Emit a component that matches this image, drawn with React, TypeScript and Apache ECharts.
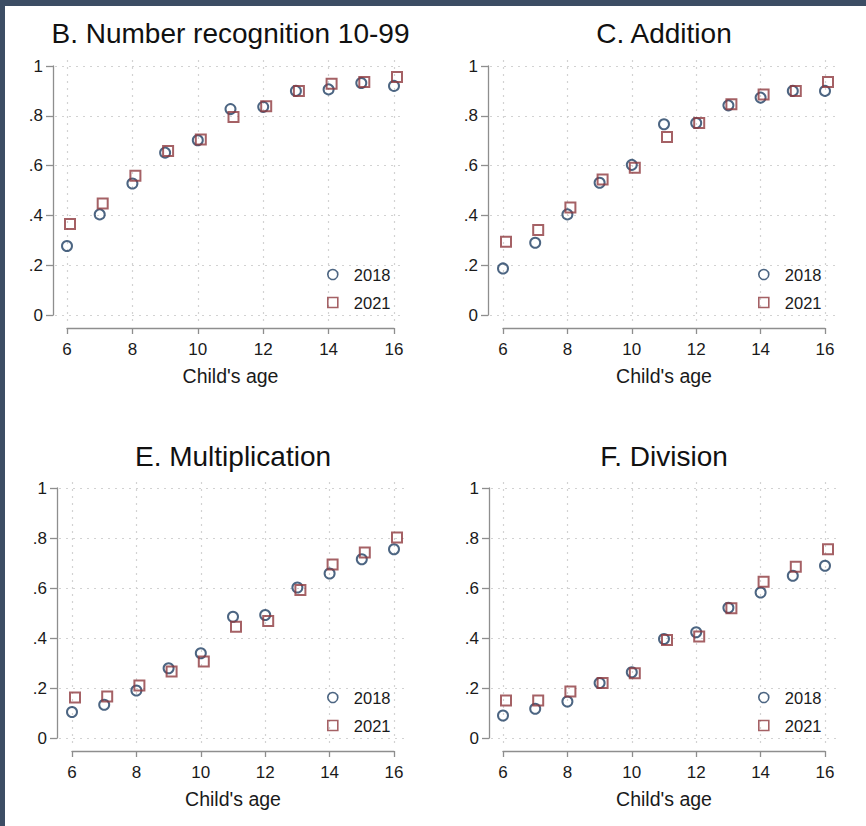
import React, { useEffect, useRef } from 'react';
import * as echarts from 'echarts';

// ---------- data ----------
const ages = [6, 7, 8, 9, 10, 11, 12, 13, 14, 15, 16];
const xTickValues = [6, 8, 10, 12, 14, 16];
const yTickValues = [0, 0.2, 0.4, 0.6, 0.8, 1];
const legendYears = ['2018', '2021'];
const xAxisTitle = "Child's age";
const panelTitles = ['B. Number recognition 10-99', 'C. Addition', 'E. Multiplication', 'F. Division'];

const numberRec2018 = [0.277, 0.404, 0.528, 0.652, 0.702, 0.827, 0.836, 0.9, 0.906, 0.932, 0.92];
const numberRec2021 = [0.365, 0.448, 0.559, 0.659, 0.705, 0.795, 0.838, 0.9, 0.929, 0.936, 0.956];
const addition2018 = [0.187, 0.29, 0.404, 0.531, 0.603, 0.766, 0.771, 0.842, 0.873, 0.9, 0.9];
const addition2021 = [0.294, 0.341, 0.432, 0.544, 0.591, 0.715, 0.771, 0.846, 0.886, 0.9, 0.936];
const multiplication2018 = [0.104, 0.133, 0.19, 0.279, 0.339, 0.485, 0.492, 0.602, 0.658, 0.715, 0.755];
const multiplication2021 = [0.162, 0.166, 0.21, 0.266, 0.306, 0.445, 0.468, 0.592, 0.694, 0.742, 0.802];
const division2018 = [0.09, 0.117, 0.146, 0.22, 0.263, 0.396, 0.423, 0.521, 0.582, 0.649, 0.689];
const division2021 = [0.15, 0.15, 0.186, 0.22, 0.259, 0.392, 0.406, 0.519, 0.625, 0.685, 0.755];

const series2018 = [numberRec2018, addition2018, multiplication2018, division2018];
const series2021 = [numberRec2021, addition2021, multiplication2021, division2021];

// ---------- layout / style ----------
const FONT = '"Liberation Sans", Arial, Helvetica, sans-serif';
const NAVY = '#1f3f63';
const MAROON = '#8e3a3e';
const AXIS = '#8e8e8e';
const GRID = '#d2d2d2';
const FRAME = '#3c4d64';
const TEXT = '#1a1a1a';

// pixel box of the data axes (x=6..16, y=0..1) plus axis line positions
const layout = [
  { left: 67, right: 394, top: 66, bottom: 315, yAxisX: 53, xAxisY: 328, titleY: 33 },
  { left: 503, right: 825, top: 66, bottom: 315, yAxisX: 488, xAxisY: 328, titleY: 33 },
  { left: 72, right: 394, top: 488, bottom: 738, yAxisX: 57, xAxisY: 751, titleY: 456 },
  { left: 503, right: 825, top: 488, bottom: 738, yAxisX: 489, xAxisY: 751, titleY: 456 },
];
const GRID_PAD = { left: 2, right: 11, top: 6, bottom: 8 };

const fmtY = (v: number) => {
  const s = String(Math.round(v * 10) / 10);
  return s.startsWith('0.') ? s.slice(1) : s;
};

function buildOption() {
  const grid: any[] = [];
  const xAxis: any[] = [];
  const yAxis: any[] = [];
  const series: any[] = [];
  const legend: any[] = [];
  const graphic: any[] = [
    { type: 'rect', shape: { x: 0, y: 0, width: 866, height: 6 }, style: { fill: FRAME }, z: 100 },
    { type: 'rect', shape: { x: 0, y: 0, width: 5, height: 826 }, style: { fill: FRAME }, z: 100 },
  ];

  const xMin = xTickValues[0];
  const xMax = xTickValues[xTickValues.length - 1];
  const yMin = yTickValues[0];
  const yMax = yTickValues[yTickValues.length - 1];

  layout.forEach((p, k) => {
    const w = p.right - p.left;
    const h = p.bottom - p.top;
    grid.push({ left: p.left, top: p.top, width: w, height: h, containLabel: false, outerBoundsMode: 'none' });
    const bgLeft = p.yAxisX + GRID_PAD.left;
    const bgRight = p.right + GRID_PAD.right;
    const bgTop = p.top - GRID_PAD.top;
    const bgBottom = p.bottom + GRID_PAD.bottom;
    grid.push({ left: bgLeft, top: bgTop, width: bgRight - bgLeft, height: bgBottom - bgTop, containLabel: false, outerBoundsMode: 'none' });
    const ppx = w / (xMax - xMin);
    const ppy = h / (yMax - yMin);

    xAxis.push({
      type: 'value', gridIndex: 2 * k, min: xMin, max: xMax, interval: 2,
      offset: p.xAxisY - p.bottom,
      axisLine: { show: true, onZero: false, lineStyle: { color: AXIS, width: 1.3 } },
      axisTick: { show: true, length: 6, lineStyle: { color: AXIS, width: 1.3 } },
      axisLabel: { fontSize: 17, color: TEXT, margin: 13, fontFamily: FONT },
      splitLine: { show: false },
      name: xAxisTitle, nameLocation: 'middle', nameGap: 38,
      nameTextStyle: { fontSize: 19.5, color: TEXT, fontFamily: FONT },
    });
    xAxis.push({
      type: 'value', gridIndex: 2 * k + 1,
      min: xMin - (p.left - bgLeft) / ppx, max: xMax + (bgRight - p.right) / ppx,
      axisLine: { show: false }, axisTick: { show: false, customValues: xTickValues },
      axisLabel: { show: false, customValues: xTickValues },
      splitLine: { show: true, lineStyle: { color: GRID, type: [2, 5], width: 1.2 } },
    });
    yAxis.push({
      type: 'value', gridIndex: 2 * k, min: yMin, max: yMax, interval: 0.2,
      offset: p.left - p.yAxisX,
      axisLine: { show: true, onZero: false, lineStyle: { color: AXIS, width: 1.3 } },
      axisTick: { show: true, length: 7, lineStyle: { color: AXIS, width: 1.3 } },
      axisLabel: { fontSize: 17, color: TEXT, margin: 10, fontFamily: FONT, formatter: fmtY },
      splitLine: { show: false },
    });
    yAxis.push({
      type: 'value', gridIndex: 2 * k + 1,
      min: yMin - (bgBottom - p.bottom) / ppy, max: yMax + (p.top - bgTop) / ppy,
      axisLine: { show: false }, axisTick: { show: false, customValues: yTickValues },
      axisLabel: { show: false, customValues: yTickValues },
      splitLine: { show: true, lineStyle: { color: GRID, type: [2, 5], width: 1.2 } },
    });

    series.push({
      type: 'scatter', name: legendYears[0], xAxisIndex: 2 * k, yAxisIndex: 2 * k,
      data: ages.map((a, i) => [a, series2018[k][i]]),
      symbol: 'circle', symbolSize: 10, clip: false, z: 3,
      itemStyle: { color: 'rgba(0,0,0,0)', borderColor: NAVY, borderWidth: 2 },
    });
    series.push({
      type: 'scatter', name: legendYears[1], xAxisIndex: 2 * k, yAxisIndex: 2 * k,
      data: ages.map((a, i) => [a, series2021[k][i]]),
      symbol: 'rect', symbolSize: 10, symbolOffset: [3, 0], clip: false, z: 4,
      itemStyle: { color: 'rgba(0,0,0,0)', borderColor: MAROON, borderWidth: 2 },
    });

    legend.push({
      orient: 'vertical', left: p.right - 67, top: p.bottom - 49, padding: 0,
      itemWidth: 10, itemHeight: 10, itemGap: 11,
      selectedMode: false, data: legendYears,
      itemStyle: { borderWidth: 1.6 },
      textStyle: { fontSize: 16.5, color: TEXT, fontFamily: FONT, lineHeight: 16, padding: [0, 0, 0, 11] },
    });

    graphic.push({
      type: 'text', x: (p.left + p.right) / 2, y: p.titleY,
      style: { text: panelTitles[k], fontSize: 28, fontFamily: FONT, fill: '#111111', align: 'center', verticalAlign: 'middle' },
    });
  });

  return {
    animation: false,
    backgroundColor: '#ffffff',
    grid, xAxis, yAxis, series, legend, graphic,
  };
}

export default function App() {
  const ref = useRef<HTMLDivElement>(null);
  useEffect(() => {
    if (!ref.current) return;
    const chart = echarts.init(ref.current, undefined, { renderer: 'svg' });
    chart.setOption(buildOption() as any);
    return () => chart.dispose();
  }, []);
  return <div ref={ref} style={{ position: 'absolute', left: 0, top: 0, width: 866, height: 826 }} />;
}
